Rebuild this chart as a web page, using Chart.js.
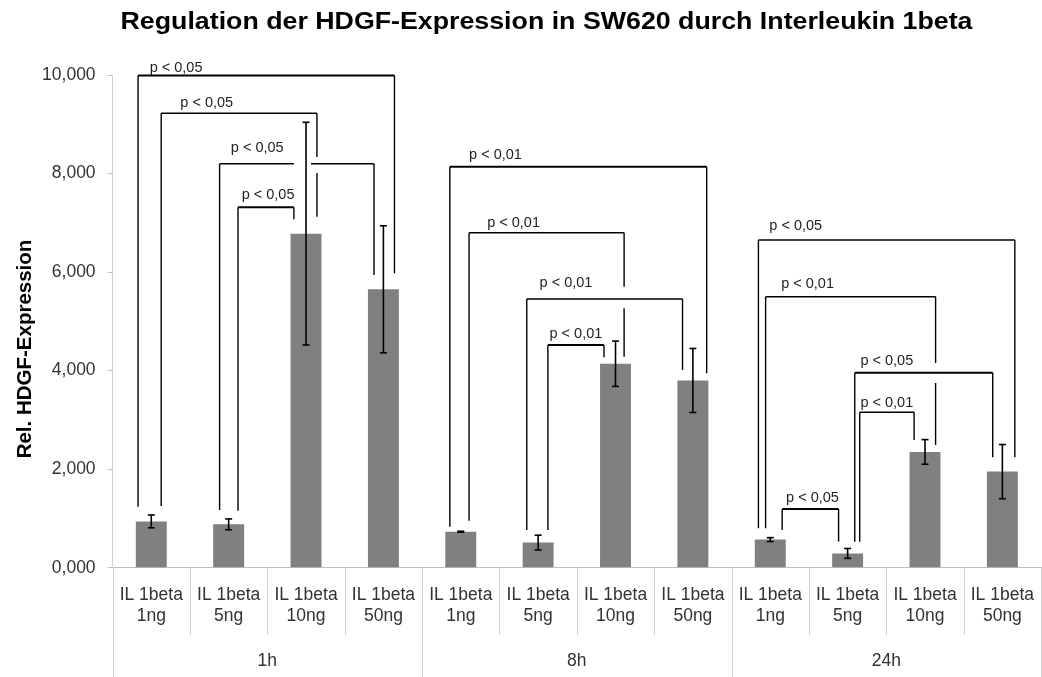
<!DOCTYPE html>
<html>
<head>
<meta charset="utf-8">
<script src="https://cdn.jsdelivr.net/npm/chart.js@4/dist/chart.umd.min.js"></script>
<style>
  html, body { margin: 0; padding: 0; overflow: hidden; background: #fff; }
  canvas { display: block; }
</style>
</head>
<body>
<canvas id="c" width="1051" height="677"></canvas>
<script>
// Relative HDGF expression in SW620 cells after Interleukin 1beta treatment
const groups = ['1h', '8h', '24h'];
const doses = ['1ng', '5ng', '10ng', '50ng'];
const expression = [0.94, 0.88, 6.78, 5.65, 0.73, 0.51, 4.14, 3.80, 0.57, 0.29, 2.35, 1.95];
const errors = [0.13, 0.11, 2.26, 1.29, 0.01, 0.15, 0.46, 0.65, 0.04, 0.10, 0.25, 0.55];
const yTicks = [0, 2, 4, 6, 8, 10];
const categories = groups.flatMap(g => doses.map(d => ['IL 1beta', d]));

// Significance brackets: x values in category-index units, y values in expression units
const brackets = [
  { x1: -0.171, x2: 3.143, y: 9.99, y1: 1.238, y2: 5.975, lx: -0.021, ly: 10.067, text: 'p < 0,05', bold: true },
  { x1: 0.128, x2: 2.141, y: 9.223, y1: 1.252, y2: 7.124, lx: 0.375, ly: 9.351, text: 'p < 0,05', legGap: [8.011, 8.336] },
  { x1: 0.883, x2: 2.879, y: 8.200, y1: 1.171, y2: 5.941, lx: 1.028, ly: 8.437, text: 'p < 0,05', gapX: [1.843, 2.064] },
  { x1: 1.121, x2: 1.843, y: 7.315, y1: 1.157, y2: 7.071, lx: 1.168, ly: 7.483, text: 'p < 0,05', bold: true },

  { x1: 3.859, x2: 7.178, y: 8.139, y1: 0.832, y2: 3.946, lx: 4.107, ly: 8.295, text: 'p < 0,01', bold: true },
  { x1: 4.107, x2: 6.111, y: 6.799, y1: 0.954, y2: 4.283, lx: 4.341, ly: 6.921, text: 'p < 0,01', legGap: [5.265, 5.703] },
  { x1: 4.853, x2: 6.866, y: 5.454, y1: 0.765, y2: 4.013, lx: 5.019, ly: 5.697, text: 'p < 0,01' },
  { x1: 5.126, x2: 5.851, y: 4.520, y1: 0.765, y2: 4.270, lx: 5.147, ly: 4.662, text: 'p < 0,01', bold: true },

  { x1: 7.847, x2: 11.161, y: 6.651, y1: 0.800, y2: 2.241, lx: 7.988, ly: 6.854, text: 'p < 0,05' },
  { x1: 7.940, x2: 10.137, y: 5.500, y1: 0.800, y2: 2.490, lx: 8.141, ly: 5.677, text: 'p < 0,01', legGap: [3.749, 4.155] },
  { x1: 9.092, x2: 10.875, y: 3.958, y1: 0.528, y2: 2.241, lx: 9.165, ly: 4.114, text: 'p < 0,05', bold: true },
  { x1: 9.156, x2: 9.859, y: 3.154, y1: 0.528, y2: 2.592, lx: 9.165, ly: 3.268, text: 'p < 0,01' },
  { x1: 8.154, x2: 8.883, y: 1.191, y1: 0.765, y2: 0.528, lx: 8.205, ly: 1.340, text: 'p < 0,05', bold: true }
];

const FONT = "'Liberation Sans', Arial, Helvetica, sans-serif";
const TITLE = 'Regulation der HDGF-Expression in SW620 durch Interleukin 1beta';

function line(ctx, ax, ay, bx, by) {
  ctx.beginPath();
  ctx.moveTo(ax, ay);
  ctx.lineTo(bx, by);
  ctx.stroke();
}

const decorations = {
  id: 'decorations',
  afterDatasetsDraw(chart) {
    const { ctx, scales: { x, y } } = chart;
    ctx.save();

    // error bars
    ctx.strokeStyle = '#000';
    ctx.lineWidth = 1.6;
    expression.forEach((v, i) => {
      const px = x.getPixelForValue(i);
      const top = y.getPixelForValue(v + errors[i]);
      const bot = y.getPixelForValue(v - errors[i]);
      line(ctx, px, top, px, bot);
      line(ctx, px - 3.5, top, px + 3.5, top);
      line(ctx, px - 3.5, bot, px + 3.5, bot);
    });

    // significance brackets
    brackets.forEach(b => {
      ctx.strokeStyle = '#000';
      ctx.lineWidth = b.bold ? 2 : 1.4;
      const xa = x.getPixelForValue(b.x1);
      const xb = x.getPixelForValue(b.x2);
      const yl = y.getPixelForValue(b.y);
      if (b.gapX) {
        line(ctx, xa, yl, x.getPixelForValue(b.gapX[0]), yl);
        line(ctx, x.getPixelForValue(b.gapX[1]), yl, xb, yl);
      } else {
        line(ctx, xa, yl, xb, yl);
      }
      ctx.lineWidth = 1.4;
      line(ctx, xa, yl, xa, y.getPixelForValue(b.y1));
      if (b.legGap) {
        line(ctx, xb, yl, xb, y.getPixelForValue(b.legGap[1]));
        line(ctx, xb, y.getPixelForValue(b.legGap[0]), xb, y.getPixelForValue(b.y2));
      } else {
        line(ctx, xb, yl, xb, y.getPixelForValue(b.y2));
      }
      ctx.fillStyle = '#1f1f1f';
      ctx.font = '14.5px ' + FONT;
      ctx.textAlign = 'left';
      ctx.textBaseline = 'alphabetic';
      ctx.fillText(b.text, x.getPixelForValue(b.lx), y.getPixelForValue(b.ly));
    });
    ctx.restore();
  },
  afterDraw(chart) {
    const { ctx, scales: { x }, chartArea } = chart;
    ctx.save();

    // category and group separators below the axis
    ctx.strokeStyle = '#d0d0d0';
    ctx.lineWidth = 1;
    for (let i = 0; i <= categories.length; i++) {
      const px = Math.round(x.getPixelForValue(i - 0.5)) + 0.5;
      const end = i % doses.length === 0 ? chart.height : 635;
      line(ctx, px, chartArea.bottom, px, end);
    }

    // group labels
    ctx.fillStyle = '#333';
    ctx.font = '17.5px ' + FONT;
    ctx.textAlign = 'center';
    ctx.textBaseline = 'middle';
    groups.forEach((g, gi) => {
      const px = x.getPixelForValue(gi * doses.length + (doses.length - 1) / 2);
      ctx.fillText(g, px, 661);
    });

    // chart title, set wide across the top
    ctx.save();
    ctx.fillStyle = '#000';
    ctx.font = 'bold 23.5px ' + FONT;
    ctx.textAlign = 'left';
    ctx.textBaseline = 'alphabetic';
    const tw = ctx.measureText(TITLE).width;
    ctx.translate(120.5, 28.5);
    ctx.scale(852 / tw, 1);
    ctx.fillText(TITLE, 0, 0);
    ctx.restore();

    // value axis title
    ctx.fillStyle = '#000';
    ctx.textAlign = 'center';
    ctx.textBaseline = 'alphabetic';
    ctx.translate(31, 349);
    ctx.rotate(-Math.PI / 2);
    ctx.font = 'bold 20.5px ' + FONT;
    ctx.fillText('Rel. HDGF-Expression', 0, 0);
    ctx.restore();
  }
};

new Chart(document.getElementById('c'), {
  type: 'bar',
  data: {
    labels: categories,
    datasets: [{
      data: expression,
      backgroundColor: '#808080',
      borderWidth: 0,
      barPercentage: 0.4,
      categoryPercentage: 1.0
    }]
  },
  options: {
    responsive: false,
    animation: false,
    devicePixelRatio: 1,
    layout: { padding: { top: 75, left: 0, right: 0, bottom: 0 } },
    plugins: {
      legend: { display: false },
      tooltip: { enabled: false },
      title: { display: false }
    },
    scales: {
      x: {
        offset: true,
        grid: { display: false, drawTicks: false },
        border: { display: true, color: '#bfbfbf', width: 1 },
        ticks: {
          autoSkip: false,
          maxRotation: 0,
          minRotation: 0,
          padding: 17,
          color: '#333',
          font: { family: FONT, size: 17.5, lineHeight: 1.18 }
        },
        afterFit(s) { s.height = 109.3; }
      },
      y: {
        min: 0,
        max: 10,
        afterBuildTicks(s) { s.ticks = yTicks.map(v => ({ value: v })); },
        grid: { display: true, drawOnChartArea: false, drawTicks: true, tickLength: 5, color: '#bfbfbf' },
        border: { display: true, color: '#d0d0d0', width: 1 },
        ticks: {
          padding: 12,
          color: '#333',
          font: { family: FONT, size: 17.5 },
          callback: v => v.toFixed(3).replace('.', ',')
        },
        afterFit(s) { s.width = 112.6; }
      }
    }
  },
  plugins: [decorations]
});
</script>
</body>
</html>
